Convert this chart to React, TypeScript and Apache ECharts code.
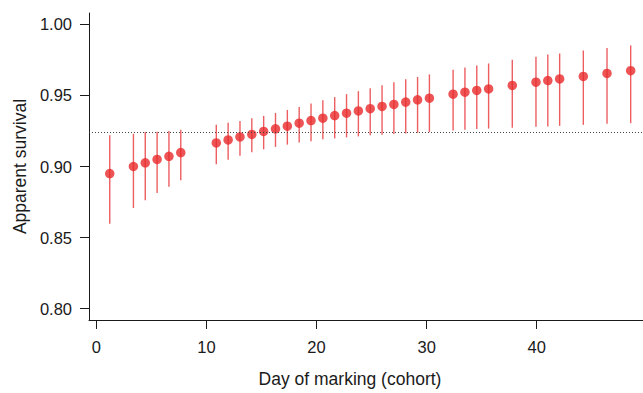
import React, { useEffect, useRef } from "react";
import * as echarts from "echarts";

const days = [1, 3, 4, 5, 6, 7, 10, 11, 12, 13, 14, 15, 16, 17, 18, 19, 20, 21, 22, 23, 24, 25, 26, 27, 28, 30, 31, 32, 33, 35, 37, 38, 39, 41, 43, 45];
const survival = [0.895, 0.9, 0.9026, 0.905, 0.9072, 0.9098, 0.9166, 0.9187, 0.9208, 0.9226, 0.9247, 0.9265, 0.9284, 0.9305, 0.9323, 0.934, 0.9358, 0.9375, 0.9391, 0.9407, 0.9423, 0.9437, 0.9453, 0.9469, 0.9481, 0.9509, 0.9523, 0.9535, 0.9546, 0.957, 0.9593, 0.9605, 0.9616, 0.9634, 0.9655, 0.9674];
const upper = [0.9219, 0.923, 0.9242, 0.9244, 0.9249, 0.9258, 0.9293, 0.9307, 0.9321, 0.934, 0.9356, 0.9377, 0.9398, 0.9419, 0.9444, 0.9467, 0.9488, 0.9509, 0.953, 0.9551, 0.9572, 0.9593, 0.9614, 0.963, 0.9648, 0.9681, 0.9697, 0.9711, 0.9725, 0.9751, 0.9772, 0.9788, 0.9795, 0.9816, 0.9834, 0.9852];
const lower = [0.8597, 0.8708, 0.8762, 0.8813, 0.8857, 0.8903, 0.9015, 0.9047, 0.9075, 0.91, 0.9121, 0.9138, 0.9154, 0.9168, 0.9177, 0.9191, 0.9198, 0.9205, 0.9212, 0.9219, 0.9224, 0.9228, 0.9233, 0.9237, 0.9242, 0.9253, 0.9258, 0.9263, 0.9267, 0.9272, 0.9279, 0.9281, 0.9286, 0.9293, 0.93, 0.9305];
const referenceSurvival = 0.9242;
const xTicks = [0, 10, 20, 30, 40];
const yTicks = [0.8, 0.85, 0.9, 0.95, 1.0];

const FONT = "'Liberation Sans', Arial, Helvetica, sans-serif";
const INK = "#1a1a1a";
const RED = "#e8292b";

export default function App() {
  const ref = useRef<HTMLDivElement>(null);
  useEffect(() => {
    if (!ref.current) return;
    const chart = echarts.init(ref.current, undefined, { renderer: "svg" });
    const whiskers = days.map((d, i) => [d, lower[i], upper[i]]);
    const points = days.map((d, i) => [d, survival[i]]);
    chart.setOption({
      animation: false,
      backgroundColor: "#ffffff",
      grid: { left: 89, right: 0, top: 13, bottom: 70, containLabel: false },
      xAxis: [
        {
          type: "value",
          min: -0.663,
          max: 49.65,
          position: "bottom",
          name: "Day of marking (cohort)",
          nameLocation: "middle",
          nameGap: 50,
          nameTextStyle: { fontFamily: FONT, fontSize: 17.5, color: INK, padding: [0, 32, 0, 0] },
          axisLine: { show: true, onZero: false, lineStyle: { color: INK, width: 1 } },
          axisTick: { show: true, customValues: xTicks, length: 9, lineStyle: { color: INK, width: 1 } },
          axisLabel: { show: true, customValues: xTicks, margin: 18, fontFamily: FONT, fontSize: 16.5, color: INK },
          splitLine: { show: false },
        },
        {
          type: "value",
          min: -0.752,
          max: 46.04,
          show: false,
          splitLine: { show: false },
        },
      ],
      yAxis: {
        type: "value",
        min: 0.792,
        max: 1.008,
        name: "Apparent survival",
        nameLocation: "middle",
        nameGap: 60,
        nameTextStyle: { fontFamily: FONT, fontSize: 17.5, color: INK },
        axisLine: { show: true, onZero: false, lineStyle: { color: INK, width: 1 } },
        axisTick: { show: true, customValues: yTicks, length: 9, lineStyle: { color: INK, width: 1 } },
        axisLabel: {
          show: true,
          customValues: yTicks,
          margin: 17,
          fontFamily: FONT,
          fontSize: 16.5,
          color: INK,
          formatter: (v: number) => v.toFixed(2),
        },
        splitLine: { show: false },
      },
      series: [
        {
          type: "custom",
          xAxisIndex: 1,
          yAxisIndex: 0,
          data: whiskers,
          encode: { x: 0, y: [1, 2] },
          silent: true,
          z: 2,
          renderItem: (params: any, api: any) => {
            const x = api.value(0);
            const p1 = api.coord([x, api.value(1)]);
            const p2 = api.coord([x, api.value(2)]);
            return {
              type: "line",
              shape: { x1: p1[0], y1: p1[1], x2: p2[0], y2: p2[1] },
              style: { stroke: "rgba(230,40,43,0.75)", lineWidth: 1.4 },
            };
          },
        },
        {
          type: "scatter",
          xAxisIndex: 1,
          yAxisIndex: 0,
          data: points,
          symbol: "circle",
          symbolSize: 9.5,
          itemStyle: { color: RED },
          z: 3,
          markLine: {
            silent: true,
            precision: 4,
            symbol: ["none", "none"],
            label: { show: false },
            lineStyle: { type: [1, 2], color: "#444", width: 1 },
            data: [{ yAxis: referenceSurvival }],
          },
        },
      ],
    });
    return () => chart.dispose();
  }, []);
  return (
    <div
      ref={ref}
      style={{ position: "absolute", left: 0, top: 0, width: 643, height: 393 }}
    />
  );
}
